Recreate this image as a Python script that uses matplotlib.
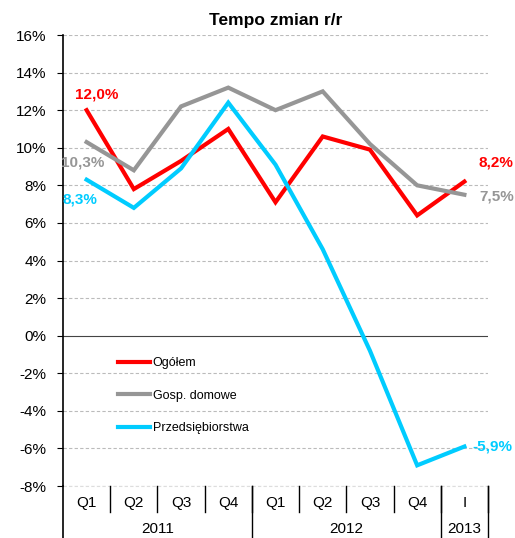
import numpy as np
import matplotlib.pyplot as plt
import matplotlib.transforms as mtransforms
import matplotlib.ticker as mticker

plt.rcParams['font.family'] = ['Liberation Sans', 'DejaVu Sans']

# --- DATA ---
quarters = ['Q1', 'Q2', 'Q3', 'Q4', 'Q1', 'Q2', 'Q3', 'Q4', 'I']
years = ['2011', '2012', '2013']
year_spans = [4, 4, 1]
ogolem = [12.0, 7.8, 9.3, 11.0, 7.1, 10.6, 9.9, 6.4, 8.2]
gosp_domowe = [10.3, 8.8, 12.2, 13.2, 12.0, 13.0, 10.2, 8.0, 7.5]
przedsiebiorstwa = [8.3, 6.8, 8.9, 12.4, 9.1, 4.6, -0.8, -6.9, -5.9]

red = '#FF0000'
grey = '#969696'
cyan = '#00CCFF'

# --- FIGURE ---
fig = plt.figure(figsize=(5.15, 5.38), dpi=100)
ax = fig.add_axes([63/515, 52/538, 425/515, 451/538])

x = np.arange(len(quarters))
ax.plot(x, ogolem, color=red, lw=3, label='Ogółem', solid_joinstyle='miter')
ax.plot(x, gosp_domowe, color=grey, lw=3, label='Gosp. domowe', solid_joinstyle='miter')
ax.plot(x, przedsiebiorstwa, color=cyan, lw=3, label='Przedsiębiorstwa', solid_joinstyle='miter')

ax.set_xlim(-0.5, len(quarters) - 0.5)
ax.set_ylim(-8, 16)
ax.yaxis.set_major_locator(mticker.MultipleLocator(2))
ax.yaxis.set_major_formatter(mticker.FuncFormatter(lambda v, p: '%d%%' % v))
ax.tick_params(axis='y', direction='out', length=4, labelsize=11, pad=8)
ax.set_xticks([])

for v in np.arange(-8, 17, 2):
    if v == 0:
        continue
    ax.axhline(v, color='#BBBBBB', lw=0.8, ls=(0, (3, 2)), zorder=0)
ax.axhline(0, color='#444444', lw=0.8, zorder=1)

for s in ['top', 'right', 'bottom']:
    ax.spines[s].set_visible(False)
ax.spines['left'].set_linewidth(1.2)

ax.set_title('Tempo zmian r/r', fontsize=12.5, fontweight='bold', pad=7)

# category axis below the plot
trans = mtransforms.blended_transform_factory(ax.transData, ax.transAxes)
ax.plot([-0.5, len(quarters) - 0.5], [0, 0], transform=trans, color='#DDDDDD',
        lw=0.8, ls=(0, (3, 2)), clip_on=False)
for i, q in enumerate(quarters):
    ax.text(i, -0.038, q, transform=trans, ha='center', va='center', fontsize=11)
    ax.plot([i + 0.5, i + 0.5], [0, -0.058], transform=trans, color='black',
            lw=1, clip_on=False)
start = -0.5
for yr, span in zip(years, year_spans):
    ax.text(start + span / 2, -0.096, yr, transform=trans, ha='center', va='center',
            fontsize=11)
    ax.plot([start + span, start + span], [0, -0.12], transform=trans, color='black',
            lw=1, clip_on=False)
    start += span
ax.plot([-0.5, -0.5], [0, -0.12], transform=trans, color='black', lw=1.2, clip_on=False)

# data labels
lbl = dict(textcoords='offset points', ha='center', va='center',
           fontweight='bold', fontsize=11)
ax.annotate('12,0%', (0, ogolem[0]), xytext=(7, 11), color=red, **lbl)
ax.annotate('10,3%', (0, gosp_domowe[0]), xytext=(-3, -15), color=grey, **lbl)
ax.annotate('8,3%', (0, przedsiebiorstwa[0]), xytext=(-5, -14), color=cyan, **lbl)
ax.annotate('8,2%', (8, ogolem[8]), xytext=(23, 14), color=red, **lbl)
ax.annotate('7,5%', (8, gosp_domowe[8]), xytext=(23, -1), color=grey, **lbl)
ax.annotate('-5,9%', (8, przedsiebiorstwa[8]), xytext=(20, 0), color=cyan, **lbl)

ax.legend(loc='center left', bbox_to_anchor=(0.13, 0.2), frameon=False,
          fontsize=9, handlelength=2.5, handletextpad=0.25, labelspacing=1.65,
          borderpad=0, borderaxespad=0)

fig.savefig('out.png', dpi=100)
